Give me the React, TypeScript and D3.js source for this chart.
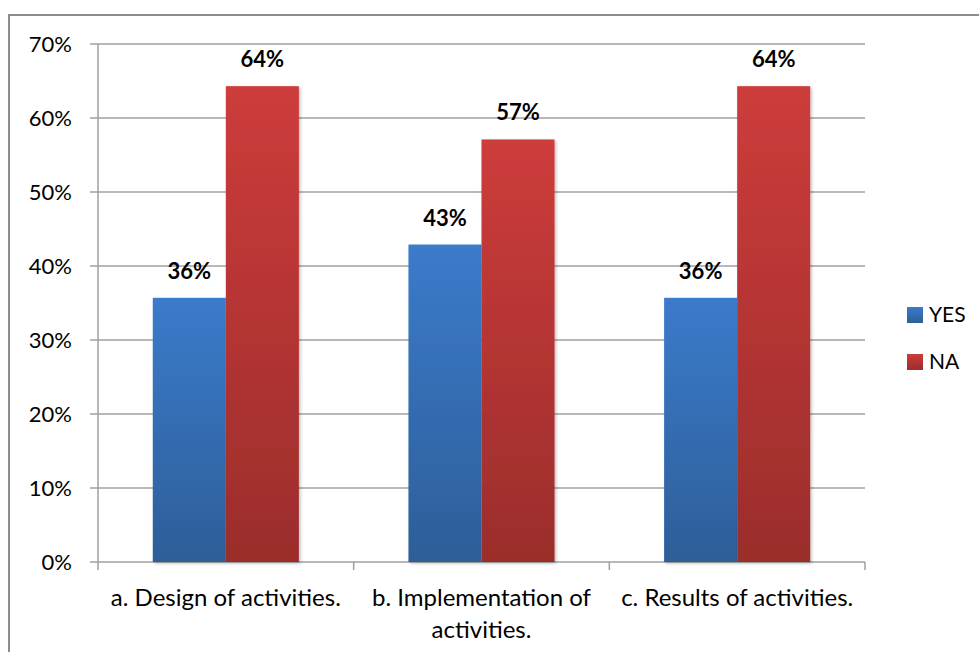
import React from "react";
import * as d3 from "d3";

const categories = ["a. Design of activities.", "b. Implementation of activities.", "c. Results of activities."];
const categoryLines = [["a. Design of activities."], ["b. Implementation of", "activities."], ["c. Results of activities."]];
const seriesNames = ["YES", "NA"];
const yesValues = [0.357, 0.429, 0.357];
const naValues = [0.643, 0.571, 0.643];
const yTicks = [0, 0.1, 0.2, 0.3, 0.4, 0.5, 0.6, 0.7];

const W = 979, H = 652;
const FONT = "Lato, 'Open Sans', sans-serif";

export default function App() {
  const left = 98, right = 865, top = 44, bottom = 562;
  const x = d3.scaleBand<string>().domain(categories).range([left, right]).paddingInner(0).paddingOuter(0);
  const bw = x.bandwidth();
  const barW = bw / (2 + 1.5);
  const y = d3.scaleLinear().domain([0, 0.7]).range([bottom, top]);
  const fmt = d3.format(".0%");
  const series = [
    { name: seriesNames[0], values: yesValues, grad: "gYes" },
    { name: seriesNames[1], values: naValues, grad: "gNa" },
  ];
  return (
    <svg width={W} height={H} style={{ position: "absolute", left: 0, top: 0, background: "#fff" }} fontFamily={FONT}>
      <defs>
        <linearGradient id="gYes" x1="0" y1="0" x2="0" y2="1">
          <stop offset="0" stopColor="#3b7bcb" />
          <stop offset="1" stopColor="#2d5e98" />
        </linearGradient>
        <linearGradient id="gNa" x1="0" y1="0" x2="0" y2="1">
          <stop offset="0" stopColor="#cd3c3b" />
          <stop offset="1" stopColor="#9b2d2c" />
        </linearGradient>
        <filter id="shadow" x="-20%" y="-20%" width="140%" height="140%">
          <feDropShadow dx="1.5" dy="1.5" stdDeviation="1.5" floodColor="#000" floodOpacity="0.25" />
        </filter>
      </defs>
      <rect x={9} y={15} width={W + 10} height={H + 10} fill="#fff" stroke="#8c8c8c" strokeWidth={2} />
      {yTicks.map((t) => (
        <g key={t}>
          <line x1={left - 8} x2={right} y1={y(t)} y2={y(t)} stroke="#a0a0a0" strokeWidth={1.5} />
          <text x={72} y={y(t)} dy="0.35em" textAnchor="end" fontSize={22} fill="#000">{fmt(t)}</text>
        </g>
      ))}
      <line x1={left} x2={left} y1={top} y2={bottom} stroke="#a0a0a0" strokeWidth={1.5} />
      {[...categories.map((c) => x(c) as number), right].map((px, i) => (
        <line key={i} x1={px} x2={px} y1={bottom} y2={bottom + 8} stroke="#a0a0a0" strokeWidth={1.5} />
      ))}
      {series.map((s, si) =>
        categories.map((c, ci) => {
          const bx = (x(c) as number) + barW * 0.75 + si * barW;
          const v = s.values[ci];
          return (
            <g key={s.name + c}>
              <rect x={bx} y={y(v)} width={barW} height={bottom - y(v)} fill={`url(#${s.grad})`} filter="url(#shadow)" />
              <text x={bx + barW / 2} y={y(v) - 19} textAnchor="middle" fontSize={22} fontWeight="bold" fill="#000">{fmt(v)}</text>
            </g>
          );
        })
      )}
      {categories.map((c, ci) => (
        <text key={c} textAnchor="middle" fontSize={24} fill="#000">
          {categoryLines[ci].map((ln, li) => (
            <tspan key={li} x={(x(c) as number) + bw / 2} y={606 + li * 32}>{ln}</tspan>
          ))}
        </text>
      ))}
      {series.map((s, si) => (
        <g key={s.name}>
          <rect x={907} y={307 + si * 47} width={16} height={16} fill={`url(#${s.grad})`} />
          <text x={929} y={315 + si * 47} dy="0.35em" fontSize={21} fill="#000">{s.name}</text>
        </g>
      ))}
    </svg>
  );
}
